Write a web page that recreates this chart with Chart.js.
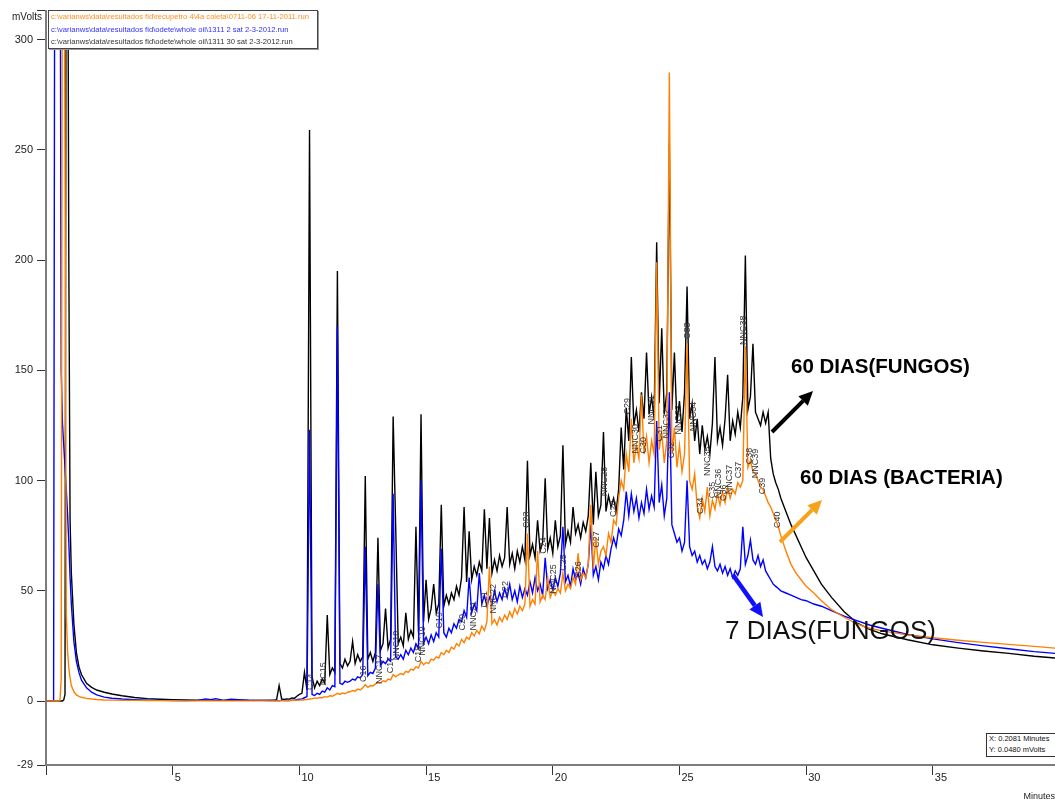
<!DOCTYPE html>
<html>
<head>
<meta charset="utf-8">
<title>Cromatograma FID</title>
<script src="https://cdn.jsdelivr.net/npm/chart.js@4.4.1/dist/chart.umd.min.js"></script>
<style>
  html, body { margin: 0; padding: 0; background: #fff; }
  #wrap { position: relative; width: 1055px; height: 804px; overflow: hidden; }
  #chart { position: absolute; left: 0; top: 0; }
  .legend {
    position: absolute; left: 48px; top: 10px; width: 266px; height: 37px;
    padding-left: 2px; background: #fff; border: 1px solid #444;
    box-shadow: 1px 1px 0 #999; overflow: hidden;
    font: 7.6px "Liberation Sans", Arial, sans-serif; line-height: 12.6px; white-space: nowrap;
  }
  .cursor {
    position: absolute; left: 986px; top: 733px; width: 66px; height: 22px;
    padding-left: 2px; background: #fff; border: 1px solid #333; color: #111;
    font: 7.5px "Liberation Sans", Arial, sans-serif; line-height: 10.5px; white-space: nowrap;
  }
</style>
</head>
<body>
<div id="wrap">
  <canvas id="chart" width="1055" height="804"></canvas>
  <div class="legend" id="legend"></div>
  <div class="cursor">X: 0.2081 Minutes<br>Y: 0.0480 mVolts</div>
</div>
<script>
// ─── Data ──────────────────────────────────────────────

const legendFiles = [
  'c:\\varianws\\data\\resultados fid\\recupetro 4\\4a coleta\\0711-06 17-11-2011.run',
  'c:\\varianws\\data\\resultados fid\\odete\\whole oil\\1311 2 sat 2-3-2012.run',
  'c:\\varianws\\data\\resultados fid\\odete\\whole oil\\1311 30 sat 2-3-2012.run',
];
const legendColors = ['#ff8c1a', '#3030ff', '#333333'];

const xTickValues = [0, 5, 10, 15, 20, 25, 30, 35];
const yTickValues = [-29, 0, 50, 100, 150, 200, 250, 300, 313.1];

// retention time (min), shared by the three runs
const minutes = [
  0, 0.25, 0.3, 0.35, 0.4, 0.45, 0.5, 0.55, 0.6, 0.65,
  0.7, 0.75, 0.8, 0.85, 0.9, 0.95, 1.0, 1.1, 1.2, 1.3,
  1.4, 1.6, 1.8, 2.0, 2.3, 2.6, 3.0, 3.5, 4.0, 4.5,
  5.0, 5.5, 6.0, 6.3, 6.5, 6.7, 7.0, 7.3, 7.6, 8.0,
  8.5, 8.9,
  9.0, 9.1, 9.2, 9.3, 9.4, 9.5, 9.6, 9.7, 9.8, 9.9,
  10.0, 10.1, 10.2, 10.3, 10.4, 10.5, 10.6, 10.7, 10.8, 10.9,
  11.0, 11.1, 11.2, 11.3, 11.4, 11.5, 11.6, 11.7, 11.8, 11.9,
  12.0, 12.1, 12.2, 12.3, 12.4, 12.5, 12.6, 12.7, 12.8, 12.9,
  13.0, 13.1, 13.2, 13.3, 13.4, 13.5, 13.6, 13.7, 13.8, 13.9,
  14.0, 14.1, 14.2, 14.3, 14.4, 14.5, 14.6, 14.7, 14.8, 14.9,
  15.0, 15.1, 15.2, 15.3, 15.4, 15.5, 15.6, 15.7, 15.8, 15.9,
  16.0, 16.1, 16.2, 16.3, 16.4, 16.5, 16.6, 16.7, 16.8, 16.9,
  17.0, 17.1, 17.2, 17.3, 17.4, 17.5, 17.6, 17.7, 17.8, 17.9,
  18.0, 18.1, 18.2, 18.3, 18.4, 18.5, 18.6, 18.7, 18.8, 18.9,
  19.0, 19.1, 19.2, 19.3, 19.4, 19.5, 19.6, 19.7, 19.8, 19.9,
  20.0, 20.1, 20.2, 20.3, 20.4, 20.5, 20.6, 20.7, 20.8, 20.9,
  21.0, 21.1, 21.2, 21.3, 21.4, 21.5, 21.6, 21.7, 21.8, 21.9,
  22.0, 22.1, 22.2, 22.3, 22.4, 22.5, 22.6, 22.7, 22.8, 22.9,
  23.0, 23.1, 23.2, 23.3, 23.4, 23.5, 23.6, 23.7, 23.8, 23.9,
  24.0, 24.1, 24.2, 24.3, 24.4, 24.5, 24.6, 24.7, 24.8, 24.9,
  25.0, 25.1, 25.2, 25.3, 25.4, 25.5, 25.6, 25.7, 25.8, 25.9,
  26.0, 26.1, 26.2, 26.3, 26.4, 26.5, 26.6, 26.7, 26.8, 26.9,
  27.0, 27.1, 27.2, 27.3, 27.4, 27.5, 27.6, 27.7, 27.8, 27.9,
  28.0, 28.1, 28.2, 28.3, 28.4, 28.5, 28.6, 28.7, 28.8, 28.9,
  29.0, 29.2, 29.4, 29.6, 29.8, 30.0, 30.3, 30.6, 31.0, 31.5,
  32, 32.5, 33, 34, 35, 36, 37, 38, 39, 39.82,
];

// 60 dias (bacteria) - recupetro 0711-06
const orangeValues = [
  0, 0, 0, 0, 0, 0, 0, 0.2, 10, 400,
  400, 250, 40, 23, 15, 10.5, 7, 4.2, 2.8, 2.1,
  1.7, 1.2, 0.9, 0.7, 0.5, 0.4, 0.3, 0.3, 0.2, 0.2,
  0.2, 0.1, 0.1, 0.1, 0.1, 0.1, 0.1, 0.1, 0.1, 0.1,
  0.1, 0.1,
  0.1, 0.1, 0.2, 0.1, 0.2, 0.2, 0.3, 0.2, 0.3, 0.4,
  0.4, 0.5, 0.6, 0.7, 0.9, 1.0, 1.4, 1.2, 1.6, 1.5,
  2.0, 1.8, 2.4, 2.2, 2.8, 3.5, 3.0, 3.6, 3.3, 4.0,
  4.2, 4.8, 4.5, 5.4, 5.0, 6.0, 7.5, 6.2, 7.0, 6.8,
  7.8, 8.5, 8.2, 9.2, 8.8, 10, 9.6, 12, 11, 11.8,
  12.5, 12, 13.5, 13, 14.5, 14, 15.5, 15, 18, 16.5,
  17.5, 17, 19, 18.5, 20, 19.5, 22, 21, 23, 22,
  24.5, 23.5, 26, 25, 28, 26.5, 29, 28, 31, 29.5,
  32, 30.5, 34, 32, 36, 61, 35, 37, 34.5, 38,
  36, 39, 37, 40.5, 38, 42, 39.5, 43, 41, 44,
  76, 43, 46, 44, 68, 45, 48, 46, 56, 47,
  50, 48, 51, 49, 58, 50, 53, 51, 56, 53,
  67, 55, 58, 56, 62, 89, 60, 74, 62, 68,
  70, 66, 76, 72, 82, 80, 92, 100, 96, 112,
  104, 128, 108, 116, 110, 139, 112, 120, 108, 118,
  112, 199, 114, 122, 108, 118, 285, 112, 124, 106,
  116, 104, 112, 162, 100, 96, 103, 88, 83, 92,
  86, 97, 84, 91, 87, 94, 89, 95, 90, 97,
  92, 96, 94, 99, 97, 100, 161, 106, 109, 104,
  103, 100, 97, 96, 93, 90, 88, 85, 82, 79,
  75, 68, 62, 58, 55, 52, 49, 45.5, 41.5, 38,
  35, 33, 31.8, 30, 28.7, 27.6, 26.6, 25.7, 24.8, 24,
];

// 7 dias (fungos) - 1311 2 sat
const blueValues = [
  0, 0, 0.3, 400, 400, 400, 400, 400, 150, 126,
  116, 106, 96, 85, 72, 56, 44, 27, 18, 13,
  9.5, 6, 4, 2.8, 1.8, 1.3, 0.9, 0.6, 0.4, 0.3,
  0.2, 0.2, 0.3, 1.0, 0.6, 1.1, 0.3, 0.8, 0.6, 0.4,
  0.3, 0.2,
  0.2, 0.3, 0.1, 0.4, 0.2, 0.3, 0.2, 0.4, 0.3, 0.6,
  0.8, 1.0, 1.5, 2, 123, 3, 2.5, 3.5, 3, 4.5,
  4, 6, 5, 7, 6.5, 170, 8, 7.5, 9, 8.5,
  9, 10, 9.5, 11, 10.5, 12, 70, 11.5, 13, 12.5,
  15, 53, 16, 18, 17, 19, 18, 94, 20, 19,
  21, 19, 23, 21, 24, 22, 26, 24, 100, 26,
  29, 26, 30, 27, 31, 29, 69, 31, 29, 33,
  31, 35, 33, 37, 36, 41, 38, 56, 40, 44,
  41, 58, 44, 48, 43, 47, 44, 50, 45, 49,
  46, 51, 47, 53, 46, 50, 45, 52, 47, 51,
  48, 54, 49, 56, 50, 53, 48, 65, 51, 55,
  50, 56, 52, 58, 79, 54, 57, 52, 60, 55,
  58, 53, 60, 56, 62, 80, 57, 61, 55, 63,
  60, 66, 62, 69, 74, 70, 78, 75, 82, 95,
  84, 94, 86, 92, 83, 90, 85, 96, 87, 93,
  88, 127, 90, 98, 84, 92, 140, 80, 76, 72,
  74, 68, 72, 100, 70, 66, 68, 63, 66, 62,
  64, 60, 63, 70, 61, 59, 62, 58, 61, 57,
  60, 56, 59, 57, 60, 79, 62, 66, 73, 64,
  62, 66, 61, 64, 59, 57, 55, 53, 52, 51,
  50, 49, 48, 47, 46, 45.5, 44, 43, 41, 38.5,
  36.5, 34.5, 33, 30.2, 28.2, 26.5, 25, 23.7, 22.4, 21.6,
];

// 60 dias (fungos) - 1311 30 sat
const blackValues = [
  0, 0, 0, 0, 0, 0, 0, 0, 0, 0,
  0.5, 3, 400, 400, 200, 82, 58, 35, 22, 15.5,
  12, 8, 6.2, 5, 4, 3.2, 2.4, 1.6, 1.1, 0.8,
  0.6, 0.5, 0.4, 0.4, 0.4, 0.3, 0.3, 0.3, 0.3, 0.3,
  0.3, 0.4,
  0.4, 0.6, 7, 1, 0.7, 1, 0.8, 1.4, 1.2, 2.2,
  3, 3.5, 13, 5, 259, 11, 6, 9, 7, 10,
  8, 39, 12, 15, 13, 195, 17, 15, 19, 16,
  18, 27, 17, 21, 18, 20, 102, 19, 22, 18,
  22, 74, 23, 26, 42, 24, 28, 129, 79, 26,
  29, 25, 40, 28, 32, 29, 79, 31, 130, 36,
  55, 37, 42, 53, 40, 44, 89, 43, 48, 44,
  49, 46, 52, 48, 56, 88, 54, 77, 55, 61,
  57, 63, 59, 87, 60, 83, 58, 64, 59, 66,
  61, 65, 88, 62, 67, 60, 68, 63, 70, 64,
  109, 66, 71, 65, 82, 68, 72, 101, 69, 74,
  67, 82, 70, 75, 116, 71, 77, 72, 88, 76,
  80, 74, 81, 77, 84, 108, 80, 104, 84, 89,
  122, 86, 93, 88, 92, 86, 96, 124, 105, 133,
  118, 156, 125, 132, 122, 140, 128, 158, 130, 138,
  128, 208, 135, 169, 130, 140, 253, 132, 158, 126,
  136, 122, 140, 188, 128, 135, 118, 128, 112, 125,
  114, 120, 112, 126, 156, 118, 124, 116, 128, 148,
  118, 127, 121, 131, 124, 138, 202, 132, 138, 162,
  131, 128, 125, 131, 126, 131, 110, 103, 99, 96,
  92, 86, 80, 75, 70, 65, 59, 53, 47, 40.5,
  35.5, 32.5, 30.5, 27.8, 25.5, 24, 22.7, 21.6, 20.3, 19.5,
];

// peak identification labels (name, retention time, mV where the text starts)
const peakNames = [
  'C14', 'NC15', 'C16', 'NNC17', 'C17', 'NNC18', 'C18', 'NNC19', 'C19', 'C20',
  'NNC21', 'C21', 'NNC22', 'C22', 'C23', 'C24', 'NNC25', 'C25', 'C26', 'C27',
  'NNC28', 'C28', 'C29', 'NNC30', 'C30', 'NNC31', 'C31', 'NNC32', 'C32', 'NNC33',
  'C33', 'NNC34', 'C34', 'NNC35', 'C35', 'NNC36', 'C36', 'NNC37', 'C37', 'NNC38',
  'C38', 'NNC39', 'C39', 'C40',
];
const peakMinutes = [
  10.43, 10.95, 12.52, 13.15, 13.59, 13.83, 14.69, 14.85, 15.52, 16.43,
  16.86, 17.30, 17.65, 18.13, 18.95, 19.63, 20.02, 20.41, 21.01, 21.72,
  22.03, 22.39, 22.94, 23.25, 23.57, 23.88, 24.20, 24.48, 24.68, 24.95,
  25.31, 25.54, 25.82, 26.09, 26.29, 26.53, 26.73, 26.96, 27.32, 27.51,
  27.75, 27.99, 28.27, 28.86,
];
const peakLevels = [
  5.0, 7.2, 8.6, 7.7, 12.6, 18.5, 17.6, 20.5, 32.9, 32.0,
  32.0, 42.4, 39.7, 46.9, 78.5, 66.8, 48.7, 59.1, 55.9, 69.5,
  92.9, 83.5, 129.9, 112.3, 112.3, 125.4, 117.7, 119.1, 110.1, 120.9,
  164.2, 122.3, 84.8, 102.0, 92.0, 92.0, 90.7, 93.8, 101.0, 161.5,
  107.4, 101.0, 93.8, 78.5,
];

// ─── Legend ────────────────────────────────────────────

document.getElementById('legend').innerHTML = legendFiles
  .map((f, i) => `<div style="color:${legendColors[i]}">${f}</div>`)
  .join('');

// ─── Decorations ───────────────────────────────────────

const FONT = '"Liberation Sans", Arial, sans-serif';

function drawArrow(ctx, x1, y1, x2, y2, color, width, head) {
  const a  = Math.atan2(y2 - y1, x2 - x1);
  const bx = x2 - head * Math.cos(a);
  const by = y2 - head * Math.sin(a);
  const hw = head * 0.48;
  ctx.strokeStyle = color;
  ctx.fillStyle   = color;
  ctx.lineWidth   = width;
  ctx.beginPath();
  ctx.moveTo(x1, y1);
  ctx.lineTo(bx, by);
  ctx.stroke();
  ctx.beginPath();
  ctx.moveTo(x2, y2);
  ctx.lineTo(bx + hw * Math.sin(a), by - hw * Math.cos(a));
  ctx.lineTo(bx - hw * Math.sin(a), by + hw * Math.cos(a));
  ctx.closePath();
  ctx.fill();
}

const decor = {
  id: 'decor',
  afterDatasetsDraw(chart) {
    const { ctx, scales: { x, y } } = chart;
    ctx.save();

    // peak names, rotated
    ctx.fillStyle = '#333';
    ctx.font = `9px ${FONT}`;
    ctx.textAlign = 'left';
    ctx.textBaseline = 'middle';
    peakNames.forEach((name, i) => {
      ctx.save();
      ctx.translate(x.getPixelForValue(peakMinutes[i]), y.getPixelForValue(peakLevels[i]));
      ctx.rotate(-Math.PI / 2);
      ctx.fillText(name, 0, 0);
      ctx.restore();
    });

    // sample annotations
    ctx.fillStyle = '#000';
    ctx.font = `bold 20.5px ${FONT}`;
    ctx.fillText('60 DIAS(FUNGOS)', 791, 367);
    ctx.fillText('60 DIAS (BACTERIA)', 800, 478);
    ctx.fillStyle = '#111';
    ctx.font = `26px ${FONT}`;
    ctx.fillText('7 DIAS(FUNGOS)', 725, 632);

    drawArrow(ctx, 772, 432, 813, 391, '#000', 4, 14);
    drawArrow(ctx, 780, 542, 822, 500, '#f7a21b', 4, 14);
    drawArrow(ctx, 733, 575, 763, 617, '#1010ff', 4.5, 14);

    ctx.restore();
  },
  afterDraw(chart) {
    const { ctx } = chart;
    ctx.save();
    ctx.fillStyle = '#222';
    ctx.font = `10px ${FONT}`;
    ctx.textBaseline = 'middle';
    ctx.textAlign = 'right';
    ctx.fillText('mVolts', 42, 17);
    ctx.font = `9px ${FONT}`;
    ctx.fillText('Minutes', 1055, 797);
    ctx.restore();
  },
};

// ─── Chart ─────────────────────────────────────────────

const toPoints = vals => minutes.map((m, i) => ({ x: m, y: vals[i] }));

const run = (label, vals, color) => ({
  label,
  data: toPoints(vals),
  borderColor: color,
  borderWidth: 1.4,
  pointRadius: 0,
  tension: 0,
  fill: false,
});

const tickFont = { family: FONT, size: 11 };

new Chart(document.getElementById('chart'), {
  type: 'line',
  data: {
    datasets: [
      run(legendFiles[0], orangeValues, '#ff8000'),
      run(legendFiles[1], blueValues, '#0000ff'),
      run(legendFiles[2], blackValues, '#000000'),
    ],
  },
  options: {
    responsive: false,
    animation: false,
    parsing: false,
    normalized: true,
    layout: { padding: { left: 0, right: 0, top: 7, bottom: 0 } },
    plugins: { legend: { display: false }, tooltip: { enabled: false } },
    scales: {
      x: {
        type: 'linear',
        min: 0,
        max: 39.82,
        afterBuildTicks: a => { a.ticks = xTickValues.map(v => ({ value: v })); },
        afterFit: a => { a.height = 39; },
        ticks: {
          callback: v => (v === 0 ? '' : String(v)),
          align: 'start',
          labelOffset: 2,
          padding: -4,
          maxRotation: 0,
          autoSkip: false,
          color: '#222',
          font: tickFont,
        },
        grid: { drawOnChartArea: false, tickLength: 10, tickColor: '#333', tickWidth: 1 },
        border: { color: '#7c7c7c', width: 2 },
      },
      y: {
        type: 'linear',
        min: -29,
        max: 313.1,
        afterBuildTicks: a => { a.ticks = yTickValues.map(v => ({ value: v })); },
        afterFit: a => { a.width = 46; },
        ticks: {
          callback: v => (v > 305 ? '' : String(v)),
          padding: 4,
          autoSkip: false,
          color: '#222',
          font: tickFont,
        },
        grid: { drawOnChartArea: false, tickLength: 9, tickColor: '#333', tickWidth: 1 },
        border: { color: '#7c7c7c', width: 2 },
      },
    },
  },
  plugins: [decor],
});
</script>
</body>
</html>
